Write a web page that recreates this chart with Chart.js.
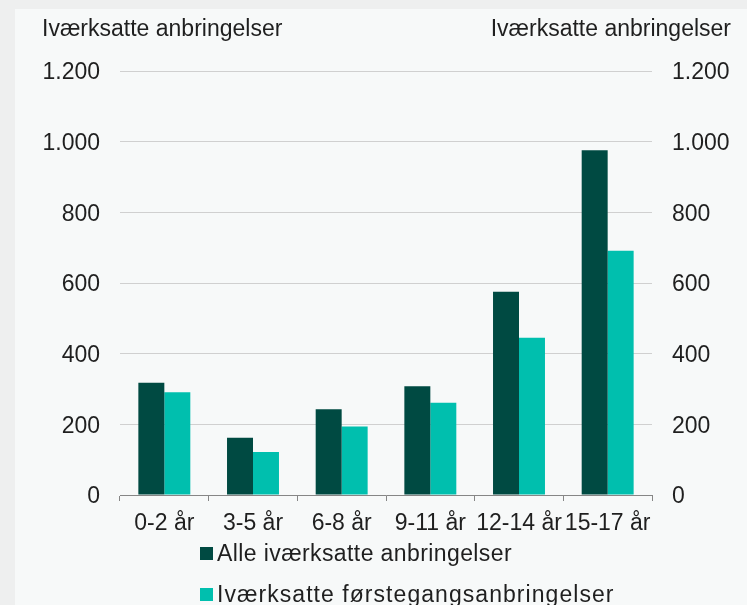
<!DOCTYPE html>
<html>
<head>
<meta charset="utf-8">
<script src="https://cdn.jsdelivr.net/npm/chart.js@4/dist/chart.umd.min.js"></script>
<style>
  html, body { margin: 0; padding: 0; }
  body { width: 747px; height: 605px; background: #eeefef; position: relative; overflow: hidden;
         font-family: "Liberation Sans", Arial, sans-serif; }
  #panel { position: absolute; left: 15px; top: 9px; width: 732px; height: 596px; background: #f7f9f9; }
  #wrap { position: absolute; left: 0; top: 0; width: 747px; height: 605px; }
  #legend { position: absolute; left: 200px; top: 540px; color: #1f1f1f; font-size: 23px; line-height: 27px; }
  .item { display: flex; align-items: center; height: 27px; margin-bottom: 14px; white-space: nowrap; }
  .box { width: 13px; height: 13px; margin-right: 4px; flex: none; }
</style>
</head>
<body>
<div id="panel"></div>
<div id="wrap"><canvas id="c" width="747" height="605"></canvas></div>
<div id="legend"></div>
<script>
const categories = ["0-2 år", "3-5 år", "6-8 år", "9-11 år", "12-14 år", "15-17 år"];
const seriesNames = ["Alle iværksatte anbringelser", "Iværksatte førstegangsanbringelser"];
const alleValues = [318, 162, 243, 308, 575, 976];
const foersteValues = [291, 122, 194, 261, 445, 691];
const yTicks = [0, 200, 400, 600, 800, 1000, 1200];
const axisTitle = "Iværksatte anbringelser";
const colors = ["#004a42", "#00bfae"];
const legendSpacing = ["0.4px", "1.05px"];

const FONT = "'Liberation Sans', Arial, sans-serif";
const fmt = v => String(v).replace(/\B(?=(\d{3})+(?!\d))/g, ".");

const titlePlugin = {
  id: "axisTitles",
  afterDraw(chart) {
    const ctx = chart.ctx;
    ctx.save();
    ctx.font = "23px " + FONT;
    ctx.fillStyle = "#1f1f1f";
    ctx.textBaseline = "middle";
    ctx.textAlign = "left";
    ctx.fillText(axisTitle, 42, 30);
    ctx.textAlign = "right";
    ctx.fillText(axisTitle, 731, 30);
    ctx.restore();
  }
};

const chart = new Chart(document.getElementById("c"), {
  type: "bar",
  data: {
    labels: categories,
    datasets: [
      { label: seriesNames[0], data: alleValues, backgroundColor: colors[0], yAxisID: "y" },
      { label: seriesNames[1], data: foersteValues, backgroundColor: colors[1], yAxisID: "y" }
    ]
  },
  options: {
    responsive: false,
    animation: false,
    devicePixelRatio: 1,
    layout: { padding: { top: 71, left: 0, right: 0, bottom: 0 } },
    datasets: { bar: { categoryPercentage: 0.586, barPercentage: 1.0 } },
    plugins: { legend: { display: false }, tooltip: { enabled: false } },
    scales: {
      x: {
        offset: true,
        grid: { display: true, drawOnChartArea: false, drawTicks: true, tickLength: 6, color: "#868686", offset: true },
        border: { display: true, color: "#868686", width: 1 },
        ticks: { font: { size: 23, family: FONT }, color: "#1f1f1f", padding: 9, maxRotation: 0, autoSkip: false },
        afterFit(s) { s.height = 110; }
      },
      y: {
        position: "left",
        min: 0, max: 1200,
        afterBuildTicks(s) { s.ticks = yTicks.map(v => ({ value: v })); },
        grid: { color: "#d0d0d0", drawTicks: false, lineWidth: 1 },
        border: { display: false },
        ticks: { font: { size: 23, family: FONT }, color: "#1f1f1f", padding: 20, labelOffset: 2, callback: v => fmt(v) },
        afterFit(s) { s.width = 120; }
      },
      y2: {
        position: "right",
        min: 0, max: 1200,
        afterBuildTicks(s) { s.ticks = yTicks.map(v => ({ value: v })); },
        grid: { display: false, drawTicks: false },
        border: { display: false },
        ticks: { font: { size: 23, family: FONT }, color: "#1f1f1f", padding: 20, labelOffset: 2, callback: v => fmt(v) },
        afterFit(s) { s.width = 95; }
      }
    }
  },
  plugins: [titlePlugin]
});

const legend = document.getElementById("legend");
chart.data.datasets.forEach((ds, i) => {
  const item = document.createElement("div");
  item.className = "item";
  const box = document.createElement("span");
  box.className = "box";
  box.style.background = ds.backgroundColor;
  const txt = document.createElement("span");
  txt.textContent = ds.label;
  txt.style.letterSpacing = legendSpacing[i];
  item.appendChild(box);
  item.appendChild(txt);
  legend.appendChild(item);
});
</script>
</body>
</html>
